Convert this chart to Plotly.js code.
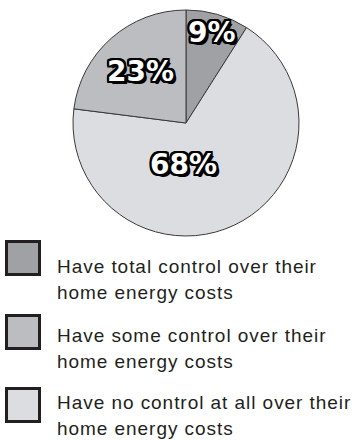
<!DOCTYPE html>
<html>
<head>
<meta charset="utf-8">
<script src="https://cdn.plot.ly/plotly-3.0.1.min.js"></script>
<style>html,body{margin:0;padding:0;background:#fff;}#chart{width:358px;height:440px;}</style>
</head>
<body>
<div id="chart"></div>
<script>
// ---- data (legend order) ----
var categories = [
  "Have total control over their\nhome energy costs",
  "Have some control over their\nhome energy costs",
  "Have no control at all over their\nhome energy costs"
];
var values = [9, 23, 68];
var colors = ["#a0a1a4", "#bcbdc0", "#dcdde0"];
// clockwise order of slices starting at 12 o'clock
var pieOrder = [0, 2, 1];

// ---- layout constants (pixels) ----
var W = 358, H = 440;
var cx = 186, cy = 123, R = 113;
var labelRadius = [0.83, 0.61, 0.37];   // per category, fraction of R
var labelAngleShift = [0, 0, 28];       // degrees, per category
var boxLeft = 5, boxSize = 36, boxTops = [240, 314, 387];
var textLeft = 55, textBaselines = [273, 342, 409], lineGap = 26, legendFont = 19;

function px(x) { return x / W; }
function py(y) { return 1 - y / H; }

var pieVals = pieOrder.map(function (i) { return values[i]; });
var pieCols = pieOrder.map(function (i) { return colors[i]; });
var pieLabs = pieOrder.map(function (i) { return categories[i]; });

var trace = {
  type: "pie",
  values: pieVals,
  labels: pieLabs,
  sort: false,
  direction: "clockwise",
  rotation: 0,
  textinfo: "none",
  hoverinfo: "none",
  showlegend: false,
  marker: { colors: pieCols, line: { color: "#3a3a3a", width: 1 } },
  domain: { x: [px(cx - R), px(cx + R)], y: [py(cy + R), py(cy - R)] }
};

var total = values.reduce(function (a, b) { return a + b; }, 0);
var annotations = [];
var shapes = [];
var outline = "2px 2px 0 #000, -2px -2px 0 #000, 2px -2px 0 #000, -2px 2px 0 #000, " +
              "2px 0 0 #000, -2px 0 0 #000, 0 2px 0 #000, 0 -2px 0 #000, " +
              "1px 2px 0 #000, 2px 1px 0 #000, -1px 2px 0 #000, 2px -1px 0 #000, " +
              "-1px -2px 0 #000, -2px -1px 0 #000, 1px -2px 0 #000, -2px 1px 0 #000, 3px 3px 0 #000";

// slice labels, positioned from the values
var cum = 0;
pieOrder.forEach(function (i) {
  var v = values[i];
  var mid = (cum + v / 2) / total * 360 + labelAngleShift[i];
  cum += v;
  var a = mid * Math.PI / 180;
  var r = R * labelRadius[i];
  annotations.push({
    x: px(cx + r * Math.sin(a)), y: py(cy - r * Math.cos(a)),
    xref: "paper", yref: "paper", showarrow: false,
    xanchor: "center", yanchor: "middle",
    text: Math.round(v / total * 100) + "%",
    font: { family: "DejaVu Sans", size: 28, color: "#ffffff", weight: 700, shadow: outline }
  });
});

// custom legend
categories.forEach(function (cat, i) {
  shapes.push({
    type: "rect", xref: "paper", yref: "paper",
    x0: px(boxLeft + 1.5), x1: px(boxLeft + boxSize - 1.5),
    y0: py(boxTops[i] + 1.5), y1: py(boxTops[i] + boxSize - 1.5),
    fillcolor: colors[i], line: { color: "#231f20", width: 3 }
  });
  cat.split("\n").forEach(function (line, k) {
    var base = textBaselines[i] + k * lineGap;
    annotations.push({
      x: px(textLeft), y: py(base - legendFont * 0.36),
      xref: "paper", yref: "paper", showarrow: false,
      xanchor: "left", yanchor: "middle",
      text: '<span style="letter-spacing:0.95px">' + line + '</span>',
      font: { family: "Liberation Sans, Arial, sans-serif", size: legendFont, color: "#231f20" }
    });
  });
});

var layout = {
  width: W, height: H,
  margin: { l: 0, r: 0, t: 0, b: 0 },
  paper_bgcolor: "#ffffff",
  showlegend: false,
  annotations: annotations,
  shapes: shapes
};

Plotly.newPlot("chart", [trace], layout, { displayModeBar: false, staticPlot: true });
</script>
</body>
</html>
